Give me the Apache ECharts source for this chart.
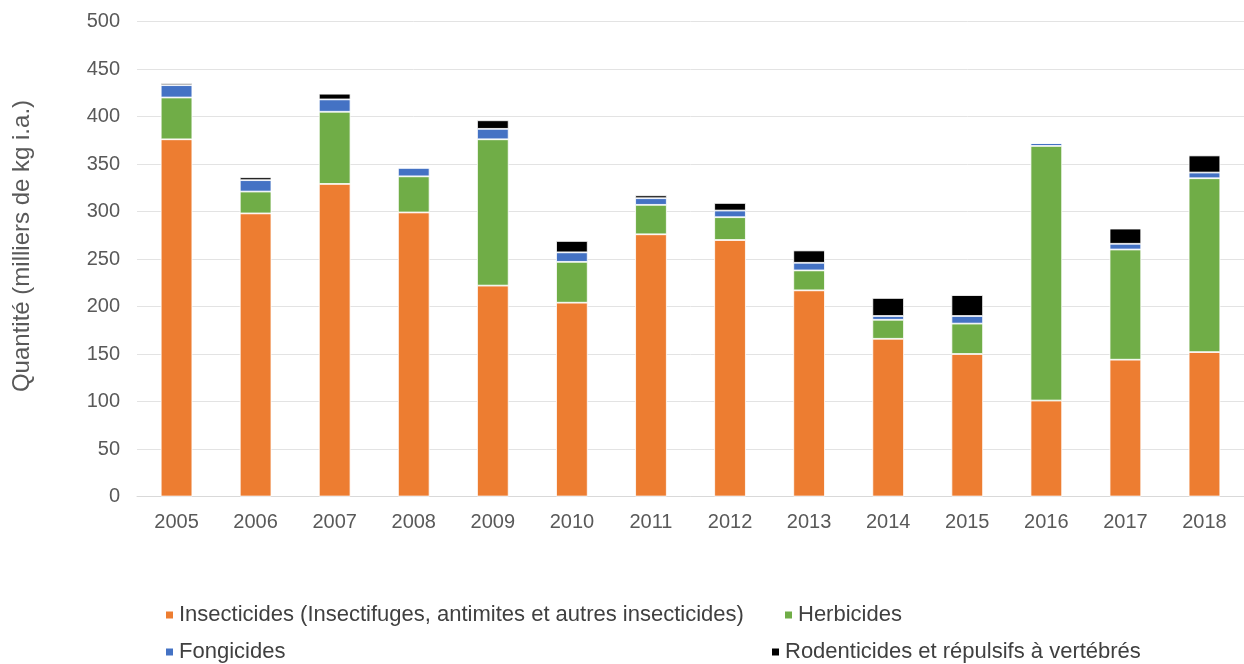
<!DOCTYPE html>
<html>
<head>
<meta charset="utf-8">
<script src="https://cdn.jsdelivr.net/npm/echarts@6/dist/echarts.min.js"></script>
<style>
  html, body { margin: 0; padding: 0; background: #fff; }
  #chart { width: 1244px; height: 664px; }
</style>
</head>
<body>
<div id="chart"></div>
<script>
const years = ['2005', '2006', '2007', '2008', '2009', '2010', '2011', '2012', '2013', '2014', '2015', '2016', '2017', '2018']
const insecticides = [376, 298, 329, 299, 222, 204, 276, 270, 217, 166, 150, 101, 144, 152]
const herbicides = [44, 23, 76, 38, 154, 43, 31, 24, 21, 20, 32, 268, 116, 183]
const fongicides = [13, 12, 13, 9, 11, 10, 7, 7, 8, 4, 8, 3, 6, 6]
const rodenticides = [2, 3, 6, 0, 9, 12, 3, 8, 13, 19, 22, 0, 16, 18]

const names = [
  'Insecticides (Insectifuges, antimites et autres insecticides)',
  'Herbicides',
  'Fongicides',
  'Rodenticides et répulsifs à vertébrés'
]
const colors = ['#ED7D31', '#70AD47', '#4472C4', '#000000']
const font = '"Liberation Sans", Arial, sans-serif'

const chart = echarts.init(document.getElementById('chart'))

// one legend per entry, the reference lays them out like a 2x2 grid
const legendItem = (name, left, top) => ({
  data: [name],
  left,
  top,
  icon: 'rect',
  itemWidth: 9,
  itemHeight: 9,
  itemGap: 5,
  selectedMode: false,
  textStyle: { fontSize: 22, color: '#404040', fontFamily: font }
})

const serie = (i, data) => ({
  name: names[i],
  type: 'bar',
  stack: 'total',
  barWidth: '40%',
  data,
  itemStyle: { color: colors[i], borderColor: '#fff', borderWidth: 0.8 }
})

chart.setOption({
  animation: false,
  textStyle: { fontFamily: font },
  color: colors,
  grid: { left: 137, right: -8, top: 21.5, bottom: 167.5 },
  legend: [
    legendItem(names[0], 159, 599),
    legendItem(names[1], 778, 599),
    legendItem(names[2], 159, 636),
    legendItem(names[3], 765, 636)
  ],
  xAxis: {
    type: 'category',
    data: years,
    axisTick: { show: false },
    axisLine: { lineStyle: { color: '#d9d9d9' } },
    axisLabel: { color: '#595959', fontSize: 20, margin: 16 }
  },
  yAxis: {
    type: 'value',
    min: 0,
    max: 500,
    interval: 50,
    name: 'Quantité (milliers de kg i.a.)',
    nameLocation: 'middle',
    nameGap: 103,
    nameTextStyle: { color: '#595959', fontSize: 24, padding: [0, 0, 0, 26] },
    axisLabel: { color: '#595959', fontSize: 20, margin: 17 },
    splitLine: { lineStyle: { color: '#e3e3e3' } }
  },
  series: [
    serie(0, insecticides),
    serie(1, herbicides),
    serie(2, fongicides),
    serie(3, rodenticides)
  ]
})
</script>
</body>
</html>
